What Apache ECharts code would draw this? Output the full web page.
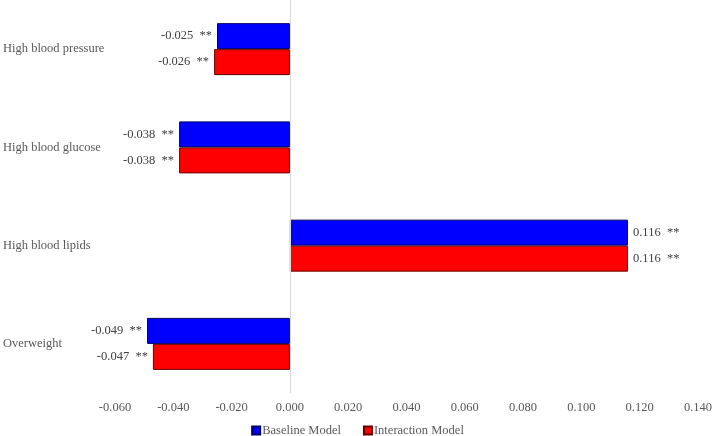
<!DOCTYPE html>
<html>
<head>
<meta charset="utf-8">
<script src="https://cdn.jsdelivr.net/npm/echarts@6/dist/echarts.min.js"></script>
<style>
  html, body { margin: 0; padding: 0; background: #fff; }
  #main { width: 715px; height: 436px; }
</style>
</head>
<body>
<div id="main"></div>
<script>
// categories top to bottom
var categories = ['High blood pressure', 'High blood glucose', 'High blood lipids', 'Overweight'];
var baseline = [-0.025, -0.038, 0.116, -0.049];
var interaction = [-0.026, -0.038, 0.116, -0.047];
var seriesNames = ['Baseline Model', 'Interaction Model'];

var font = '"Liberation Serif", "Times New Roman", serif';

function toItems(arr) {
  return arr.map(function (v) {
    return { value: v, label: { position: v < 0 ? 'left' : 'right' } };
  });
}

var chart = echarts.init(document.getElementById('main'));

var option = {
  animation: false,
  textStyle: { fontFamily: font },
  grid: { left: 115, right: 14, top: 0, bottom: 43 },
  legend: {
    bottom: -6,
    left: 'center',
    itemWidth: 8,
    itemHeight: 8,
    itemGap: 22,
    icon: 'rect',
    textStyle: { fontFamily: font, fontSize: 12.5, color: '#595959', padding: [0, 0, 0, -3] },
    data: seriesNames
  },
  xAxis: {
    type: 'value',
    min: -0.06,
    max: 0.14,
    interval: 0.02,
    axisLine: { show: false },
    axisTick: { show: false },
    splitLine: { show: false },
    axisLabel: {
      margin: 8,
      fontSize: 12.5,
      color: '#595959',
      fontFamily: font,
      formatter: function (v) { return v.toFixed(3); }
    }
  },
  yAxis: {
    type: 'category',
    inverse: true,
    data: categories,
    axisLine: { show: false },
    axisTick: { show: false },
    axisLabel: {
      align: 'left',
      margin: 112,
      fontSize: 12.5,
      color: '#595959',
      fontFamily: font
    }
  },
  series: [
    {
      name: seriesNames[0],
      type: 'bar',
      barWidth: 26,
      barGap: '0%',
      data: toItems(baseline),
      itemStyle: { color: '#0000ff', borderColor: '#000066', borderWidth: 1 },
      label: {
        show: true,
        distance: 5,
        fontSize: 12.5,
        color: '#404040',
        fontFamily: font,
        formatter: function (p) { return p.value.toFixed(3) + '  **'; }
      },
      markLine: {
        silent: true,
        symbol: 'none',
        label: { show: false },
        lineStyle: { color: '#d9d9d9', type: 'solid', width: 1 },
        data: [{ xAxis: 0 }]
      }
    },
    {
      name: seriesNames[1],
      type: 'bar',
      barWidth: 26,
      data: toItems(interaction),
      itemStyle: { color: '#ff0000', borderColor: '#660000', borderWidth: 1 },
      label: {
        show: true,
        distance: 5,
        fontSize: 12.5,
        color: '#404040',
        fontFamily: font,
        formatter: function (p) { return p.value.toFixed(3) + '  **'; }
      }
    }
  ]
};

chart.setOption(option);
</script>
</body>
</html>
